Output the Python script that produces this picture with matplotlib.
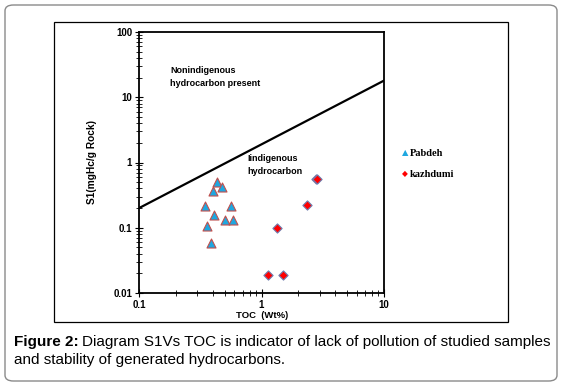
import matplotlib
matplotlib.use("Agg")
import matplotlib.pyplot as plt
from matplotlib.patches import FancyBboxPatch, Rectangle
from matplotlib.ticker import LogLocator, NullFormatter, FixedLocator, FixedFormatter

# Data
pabdeh_toc = [0.43, 0.476, 0.40, 0.346, 0.567, 0.407, 0.503, 0.585, 0.357, 0.387]
pabdeh_s1 = [0.508, 0.416, 0.366, 0.218, 0.215, 0.157, 0.13, 0.133, 0.106, 0.058]
kaz_toc = [2.77, 2.85, 2.34, 1.33, 1.14, 1.5]
kaz_s1 = [0.565, 0.56, 0.223, 0.098, 0.019, 0.019]
line_toc = [0.1, 10]
line_s1 = [0.2, 18]
x_ticks = [0.1, 1, 10]
x_ticklabels = ["0.1", "1", "10"]
y_ticks = [0.01, 0.1, 1, 10, 100]
y_ticklabels = ["0.01", "0.1", "1", "10", "100"]

W, H = 563, 386
fig = plt.figure(figsize=(W / 100, H / 100), dpi=100)

def fx(px):
    return px / W

def fy(py):
    return 1 - py / H

# outer rounded frame
outer = FancyBboxPatch((fx(5), fy(381)), fx(552), 376 / H,
                       boxstyle="round,pad=0,rounding_size=0.015",
                       transform=fig.transFigure, fill=False,
                       edgecolor="#8a8a8a", linewidth=1.0)
fig.patches.append(outer)
# inner chart frame
inner = Rectangle((fx(54), fy(322)), fx(508 - 54), 300 / H,
                  transform=fig.transFigure, fill=False,
                  edgecolor="black", linewidth=0.9)
fig.patches.append(inner)

ax = fig.add_axes([fx(139), fy(293), fx(384 - 139), (293 - 32) / H])
ax.set_xscale("log")
ax.set_yscale("log")
ax.set_xlim(0.1, 10)
ax.set_ylim(0.01, 100)

for s in ax.spines.values():
    s.set_linewidth(1.3)

ax.plot(line_toc, line_s1, color="black", linewidth=1.6)

ax.scatter(pabdeh_toc, pabdeh_s1, marker="^", s=42, facecolor="#1ea7e0",
           edgecolor="#c0504d", linewidth=0.8, zorder=3)
ax.scatter(kaz_toc, kaz_s1, marker="D", s=22, facecolor="#ff0000",
           edgecolor="#6f7fb0", linewidth=0.8, zorder=3)

ax.xaxis.set_major_locator(FixedLocator(x_ticks))
ax.xaxis.set_major_formatter(FixedFormatter(x_ticklabels))
ax.yaxis.set_major_locator(FixedLocator(y_ticks))
ax.yaxis.set_major_formatter(FixedFormatter(y_ticklabels))
ax.xaxis.set_minor_locator(LogLocator(base=10, subs=range(2, 10)))
ax.yaxis.set_minor_locator(LogLocator(base=10, subs=range(2, 10)))
ax.xaxis.set_minor_formatter(NullFormatter())
ax.yaxis.set_minor_formatter(NullFormatter())
ax.tick_params(axis="both", which="major", direction="inout", length=6, width=0.8,
               labelsize=7, pad=2)
ax.tick_params(axis="both", which="minor", direction="inout", length=5, width=0.6)
for lab in ax.get_xticklabels() + ax.get_yticklabels():
    lab.set_fontweight("bold")
    lab.set_family("Liberation Sans")

ax.text(0.18, 30, "Nonindigenous\nhydrocarbon present", fontsize=6.5,
        fontweight="bold", family="Liberation Sans", va="top", linespacing=1.6)
ax.text(0.76, 1.35, "Iindigenous\nhydrocarbon", fontsize=6.5,
        fontweight="bold", family="Liberation Sans", va="top", linespacing=1.6)

fig.text(fx(92), fy(162), "S1(mgHc/g Rock)", rotation=90, ha="center", va="center",
         fontsize=7.3, fontweight="bold", family="Liberation Sans")
fig.text(fx(262), fy(316), "TOC  (Wt%)", ha="center", va="center",
         fontsize=6.8, fontweight="bold", family="Liberation Sans")

# legend
fig.text(fx(405), fy(153), "\u25B2", color="#1ea7e0", fontsize=6, ha="center", va="center",
         family="DejaVu Sans")
fig.text(fx(410), fy(153), "Pabdeh", fontsize=7.5, fontweight="bold",
         family="Liberation Serif", ha="left", va="center")
fig.text(fx(405), fy(174), "\u25C6", color="#ff0000", fontsize=5.5, ha="center", va="center",
         family="DejaVu Sans")
fig.text(fx(410), fy(174), "kazhdumi", fontsize=7.5, fontweight="bold",
         family="Liberation Serif", ha="left", va="center")

# caption
cap_fs = 11.0
t1 = fig.text(fx(14), fy(342), "Figure 2:", fontsize=cap_fs, fontweight="bold",
              family="Liberation Sans", ha="left", va="center")
fig.canvas.draw()
bb = t1.get_window_extent()
fig.text(fx(bb.x1 + 3.5), fy(342),
         "Diagram S1Vs TOC is indicator of lack of pollution of studied samples",
         fontsize=cap_fs, family="Liberation Sans", ha="left", va="center")
fig.text(fx(14), fy(360), "and stability of generated hydrocarbons.", fontsize=cap_fs,
         family="Liberation Sans", ha="left", va="center")

fig.savefig("out.png", dpi=100)
